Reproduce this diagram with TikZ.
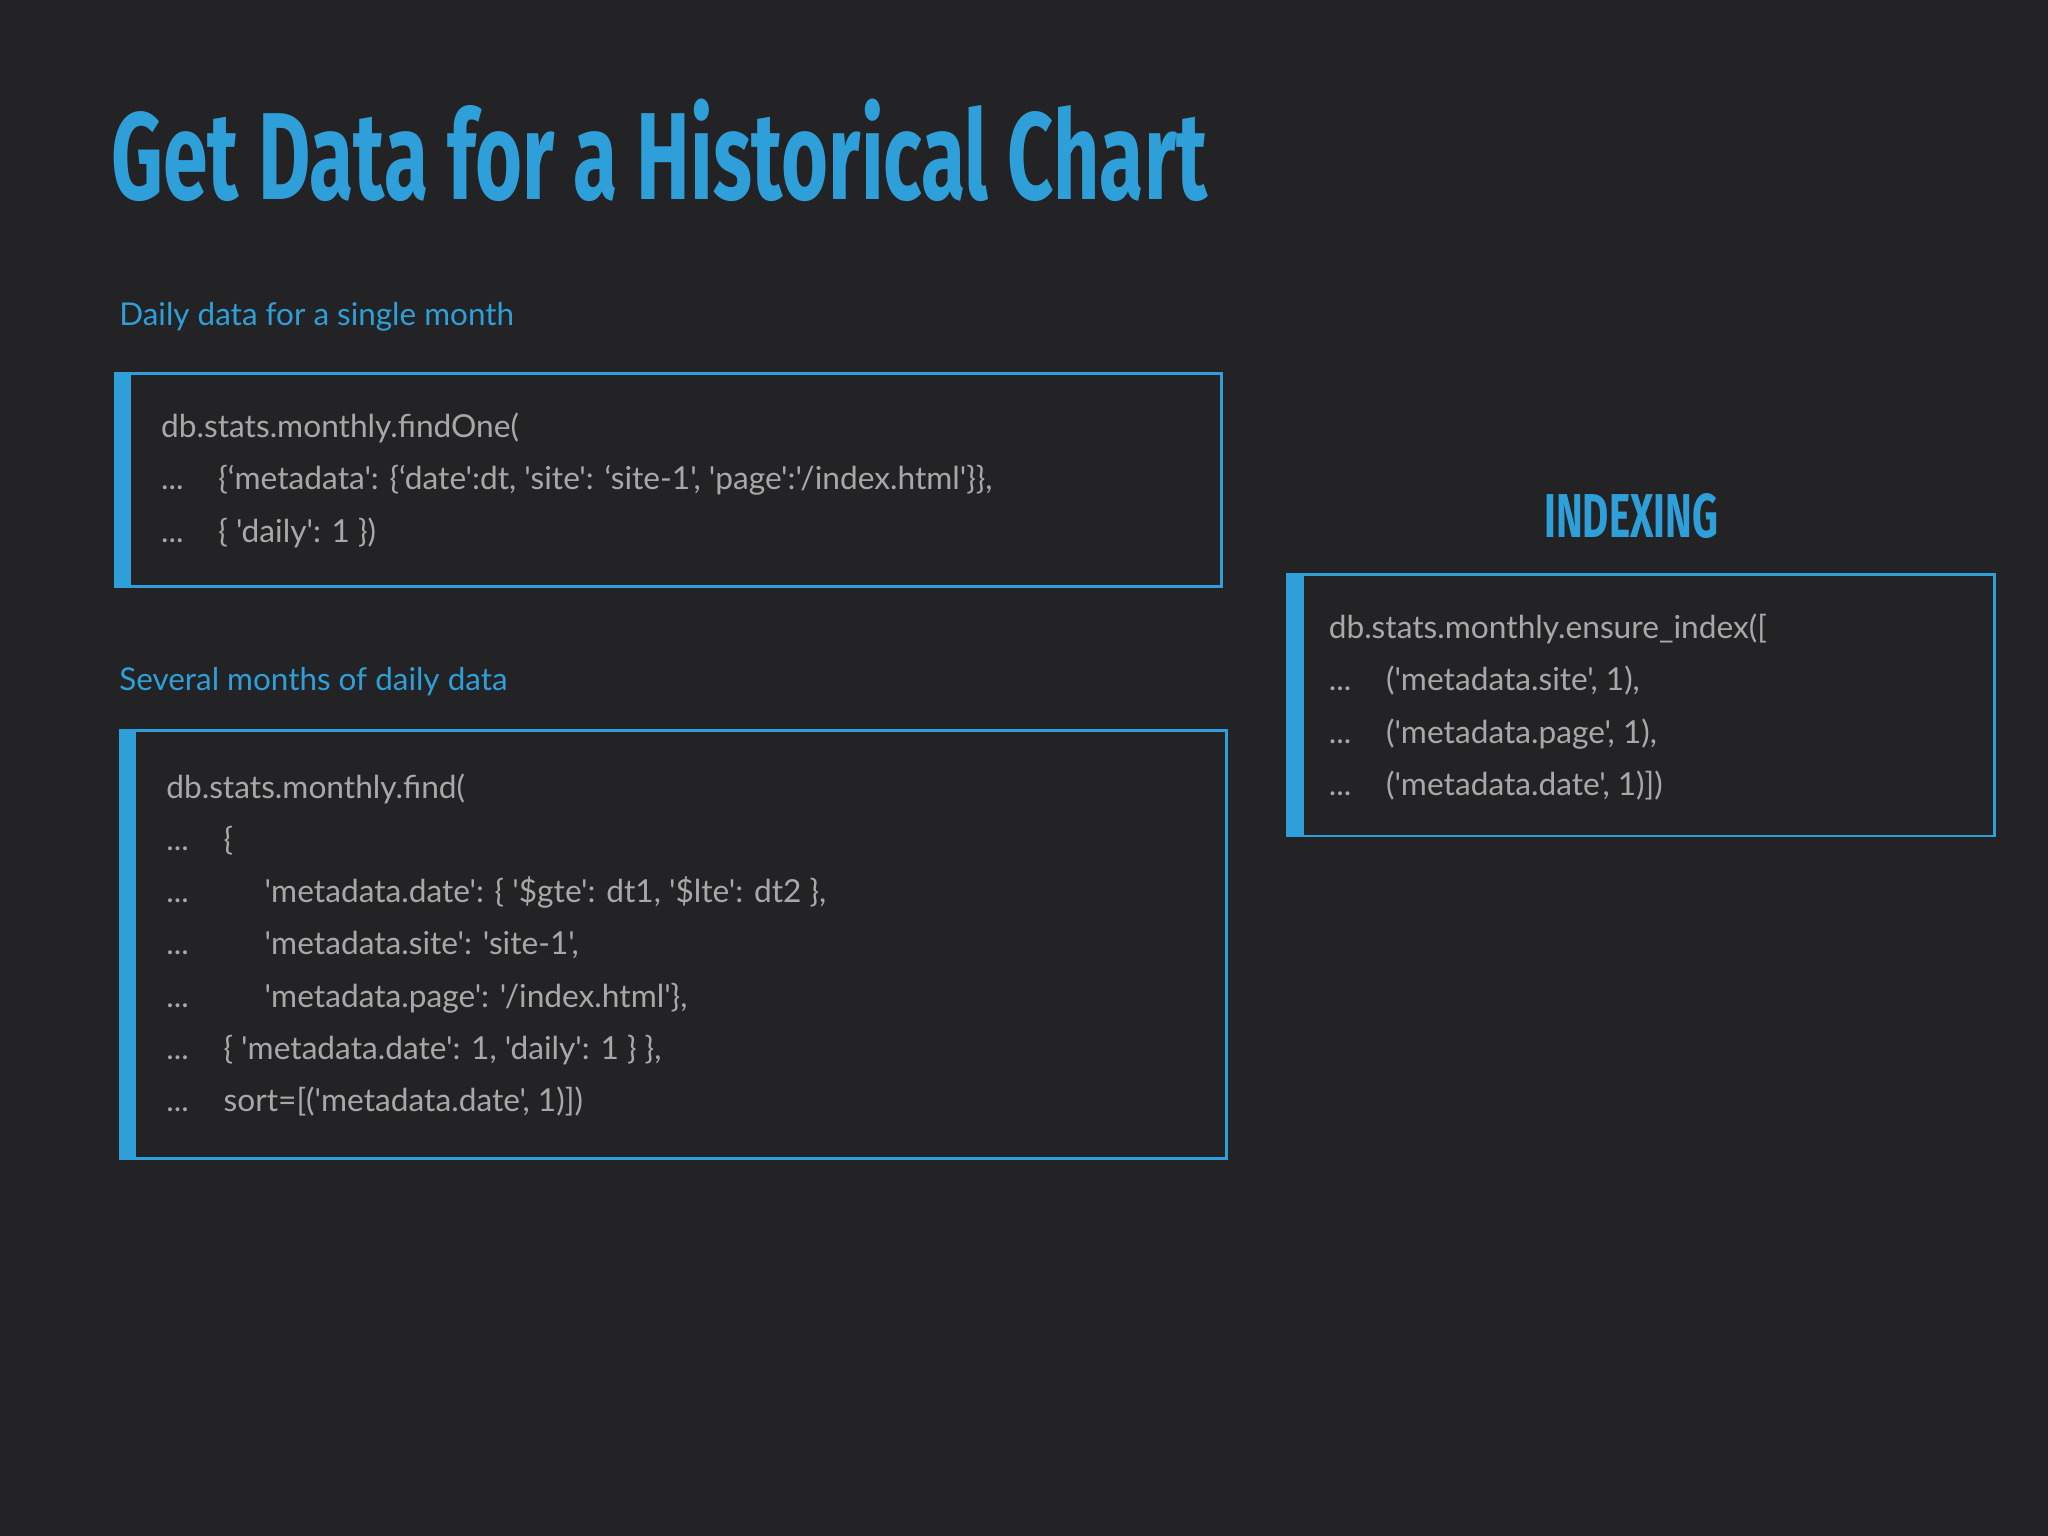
\documentclass[tikz,border=0pt]{standalone}
\usepackage{fontspec}
\setmainfont{Lato}
\newfontfamily\codefont{Lato}[Ligatures=ResetAll]
\newfontfamily\titlefont{Fira Sans}
\definecolor{bg}{HTML}{232325}
\definecolor{blu}{HTML}{2E9FD8}
\definecolor{codegray}{HTML}{A8A8A8}
\begin{document}
\begin{tikzpicture}[x=0.02cm,y=-0.02cm,
  code/.style={anchor=base west,inner sep=0,text=codegray,font=\codefont\fontsize{13.8}{15}\selectfont},
  sub/.style={anchor=base west,inner sep=0,text=blu,font=\fontsize{13.7}{15}\selectfont},
  box/.style={draw=blu,line width=1.2pt},
  bar/.style={fill=blu}]
\fill[bg] (0,0) rectangle (1568,1176);
\useasboundingbox (0,0) rectangle (1568,1176);
\node[anchor=base west,inner sep=0,text=blu] (title) at (85,153)
  {\scalebox{0.65}[1]{\titlefont\bfseries\fontsize{54}{60}\selectfont Get Data for a Historical Chart}};
\node[sub] (s1) at (91,249) {Daily data for a single month};
\node[sub] (s2) at (91,529) {Several months of daily data};
% box 1
\draw[box] (88,286) rectangle (935,449);
\fill[bar] (88,286) rectangle (100,449);
\node[code] (a1) at (123,335) {db.stats.monthly.findOne(};
\node[code] (a2) at (123,375) {...\hspace{1.1em}\{‘metadata': \{‘date':dt, 'site': ‘site-1', 'page':'/index.html'\}\},};
\node[code] (a3) at (123,415) {...\hspace{1.1em}\{ 'daily': 1 \})};
% box 2
\draw[box] (92,559) rectangle (939,887);
\fill[bar] (92,559) rectangle (104,887);
\node[code] (b1) at (127,611) {db.stats.monthly.find(};
\node[code] (b2) at (127,651) {...\hspace{1.1em}\{};
\node[code] (b3) at (127,691) {...\hspace{2.4em}'metadata.date': \{ '\$gte': dt1, '\$lte': dt2 \},};
\node[code] (b4) at (127,731) {...\hspace{2.4em}'metadata.site': 'site-1',};
\node[code] (b5) at (127,771) {...\hspace{2.4em}'metadata.page': '/index.html'\},};
\node[code] (b6) at (127,811) {...\hspace{1.1em}\{ 'metadata.date': 1, 'daily': 1 \} \},};
\node[code] (b7) at (127,851) {...\hspace{1.1em}sort=[('metadata.date', 1)])};
% indexing
\node[inner sep=0,text=blu] (idx) at (1249,395)
  {\scalebox{0.65}[1]{\titlefont\bfseries\fontsize{27}{30}\selectfont INDEXING}};
\draw[box] (986,440) rectangle (1527,640);
\fill[bar] (986,440) rectangle (998,640);
\node[code] (c1) at (1017,489) {db.stats.monthly.ensure\_index([};
\node[code] (c2) at (1017,529) {...\hspace{1.1em}('metadata.site', 1),};
\node[code] (c3) at (1017,569) {...\hspace{1.1em}('metadata.page', 1),};
\node[code] (c4) at (1017,609) {...\hspace{1.1em}('metadata.date', 1)])};
\end{tikzpicture}
\end{document}
